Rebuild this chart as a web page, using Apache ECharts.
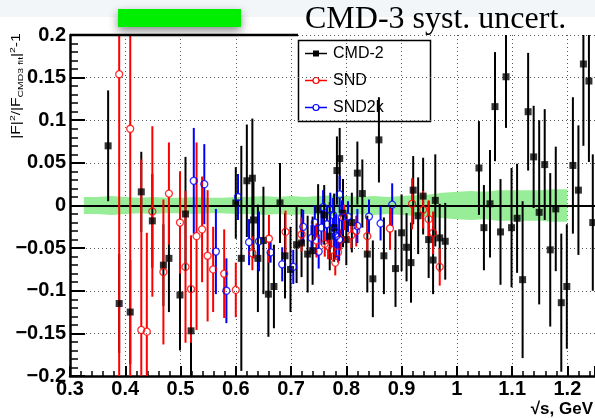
<!DOCTYPE html>
<html><head><meta charset="utf-8">
<script src="https://cdn.jsdelivr.net/npm/echarts@6/dist/echarts.min.js"></script>
<style>html,body{margin:0;padding:0;background:#fff}#c{width:595px;height:418px}</style>
</head><body><div id="c"></div><script>
// ---- CMD-2 (black squares) ----
const cmd2X=[0.369,0.389,0.409,0.429,0.449,0.469,0.479,0.499,0.509,0.519,0.600,0.610,0.620,0.630,0.632,0.640,0.650,0.659,0.669,0.680,0.689,0.699,0.710,0.719,0.730,0.739,0.749,0.760,0.770,0.778,0.783,0.788,0.794,0.800,0.810,0.820,0.829,0.838,0.848,0.859,0.868,0.889,0.900,0.909,0.917,0.921,0.930,0.939,0.949,0.957,0.961,0.969,0.979,1.040,1.049,1.060,1.069,1.079,1.089,1.099,1.109,1.119,1.129,1.139,1.149,1.159,1.169,1.179,1.189,1.199,1.210,1.220,1.229,1.239,1.246];
const cmd2Y=[0.070,-0.115,-0.125,0.016,-0.018,-0.070,-0.062,-0.105,-0.010,-0.147,0.003,-0.062,0.029,0.032,-0.017,-0.062,-0.041,-0.104,-0.095,0.003,-0.059,-0.075,-0.046,-0.044,-0.057,-0.053,-0.005,-0.011,-0.036,-0.026,0.041,0.055,-0.009,-0.040,-0.020,0.038,0.014,-0.057,-0.086,0.077,-0.059,-0.074,-0.032,-0.049,-0.067,0.018,-0.012,0.011,-0.040,-0.064,0.006,-0.038,-0.042,0.044,-0.026,0.002,0.116,-0.031,0.151,-0.026,-0.015,-0.087,0.110,0.057,-0.008,0.048,-0.052,-0.004,-0.114,-0.095,0.047,0.018,0.166,0.146,-0.020];
const cmd2E=[0.065,0.058,0.061,0.047,0.055,0.048,0.063,0.065,0.067,0.065,0.042,0.132,0.066,0.070,0.045,0.063,0.063,0.050,0.049,0.047,0.050,0.050,0.045,0.040,0.045,0.040,0.030,0.035,0.040,0.040,0.040,0.036,0.040,0.030,0.035,0.037,0.040,0.045,0.045,0.050,0.045,0.045,0.045,0.040,0.047,0.040,0.045,0.045,0.045,0.040,0.054,0.040,0.045,0.055,0.050,0.063,0.064,0.062,0.060,0.070,0.064,0.092,0.069,0.060,0.108,0.065,0.090,0.073,0.081,0.073,0.080,0.076,0.096,0.095,0.080];
// ---- SND (red open circles) ----
const sndX=[0.389,0.409,0.429,0.439,0.449,0.469,0.479,0.499,0.509,0.519,0.529,0.539,0.549,0.559,0.579,0.600,0.630,0.660,0.690,0.719,0.746,0.761,0.767,0.773,0.780,0.785,0.790,0.796,0.809,0.818,0.838,0.879,0.919,0.939,0.949,0.957,0.969];
const sndY=[0.154,0.090,-0.146,-0.148,-0.007,-0.078,0.014,-0.020,-0.072,-0.098,-0.036,-0.028,-0.059,-0.075,-0.080,-0.099,-0.056,-0.039,-0.031,-0.034,-0.041,-0.045,-0.048,-0.052,-0.067,-0.055,-0.040,-0.014,-0.035,-0.030,-0.036,-0.027,0.002,-0.005,-0.016,-0.032,-0.072];
const sndE=[0.450,0.450,0.200,0.116,0.100,0.085,0.060,0.060,0.089,0.063,0.110,0.062,0.077,0.050,0.052,0.032,0.020,0.028,0.025,0.020,0.020,0.015,0.015,0.012,0.015,0.012,0.012,0.015,0.015,0.018,0.020,0.025,0.030,0.022,0.022,0.025,0.022];
// ---- SND2k (blue open circles) ----
const snd2kX=[0.524,0.543,0.564,0.583,0.604,0.624,0.642,0.663,0.684,0.704,0.722,0.737,0.743,0.750,0.755,0.758,0.765,0.771,0.776,0.779,0.782,0.787,0.788,0.792,0.803,0.820,0.841,0.862,0.883];
const snd2kY=[0.029,0.025,-0.054,-0.100,0.010,-0.043,-0.042,-0.055,-0.069,-0.072,-0.025,-0.038,-0.020,-0.054,-0.026,-0.002,-0.022,-0.005,-0.011,-0.030,-0.036,-0.040,0.013,-0.014,-0.013,-0.024,-0.013,-0.021,0.001];
const snd2kE=[0.062,0.047,0.050,0.038,0.027,0.027,0.035,0.012,0.020,0.020,0.020,0.015,0.020,0.020,0.020,0.020,0.020,0.020,0.020,0.020,0.025,0.025,0.022,0.020,0.018,0.020,0.020,0.020,0.025];
// ---- CMD-3 systematic uncertainty band (half width) ----
const bandX=[0.325,0.35,0.375,0.4,0.425,0.45,0.475,0.5,0.525,0.55,0.575,0.6,0.625,0.65,0.675,0.7,0.725,0.75,0.775,0.8,0.825,0.85,0.875,0.9,0.925,0.95,0.975,1.0,1.025,1.05,1.075,1.1,1.125,1.15,1.175,1.2];
const bandHalf=[0.010,0.010,0.011,0.010,0.009,0.010,0.009,0.009,0.010,0.009,0.009,0.010,0.010,0.011,0.010,0.011,0.010,0.011,0.012,0.011,0.010,0.011,0.010,0.011,0.012,0.013,0.015,0.016,0.017,0.016,0.018,0.018,0.018,0.018,0.019,0.019];
// ---- axis ticks ----
const xMin=0.3, xMax=1.25, xStep=0.1;
const yMin=-0.2, yMax=0.2, yStep=0.05;

const FONT='"Liberation Sans", Arial, Helvetica, sans-serif';
const chart=echarts.init(document.getElementById('c'),null,{renderer:'canvas'});

function zip3(a,b,c){return a.map((v,i)=>[v,b[i],c[i]]);}
function zip2(a,b){return a.map((v,i)=>[v,b[i]]);}
function errBars(color,gap,lw){
  return function(params,api){
    const x=api.value(0),y=api.value(1),e=api.value(2);
    const c=api.coord([x,y]),t=api.coord([x,y+e]),b=api.coord([x,y-e]);
    const st={stroke:color,lineWidth:lw};
    const ch=[];
    if(gap>0){
      const g1=Math.min(gap,c[1]-t[1]), g2=Math.min(gap,b[1]-c[1]);
      ch.push({type:'line',shape:{x1:c[0],y1:t[1],x2:c[0],y2:c[1]-g1},style:st});
      ch.push({type:'line',shape:{x1:c[0],y1:c[1]+g2,x2:c[0],y2:b[1]},style:st});
    } else {
      ch.push({type:'line',shape:{x1:c[0],y1:t[1],x2:c[0],y2:b[1]},style:st});
    }
    return {type:'group',children:ch};
  };
}
function fmt(v){const a=parseFloat(Math.abs(v).toFixed(3));return (v< -1e-9?'\u2212':'')+a;}

const series=[
  {type:'line',data:zip2(bandX,bandHalf),symbol:'none',lineStyle:{width:0},areaStyle:{color:'#98ee98',opacity:1},silent:true,z:1,
   markLine:{silent:true,symbol:'none',label:{show:false},lineStyle:{color:'#000',width:2,type:'solid'},data:[{yAxis:0}],z:2}},
  {type:'line',data:zip2(bandX,bandHalf.map(v=>-v)),symbol:'none',lineStyle:{width:0},areaStyle:{color:'#98ee98',opacity:1},silent:true,z:1},
  {type:'custom',name:'CMD-2 err',data:zip3(cmd2X,cmd2Y,cmd2E),renderItem:errBars('#000',0,2),clip:true,encode:{x:0,y:1},z:3},
  {type:'scatter',name:'CMD-2',data:zip2(cmd2X,cmd2Y),symbol:'rect',symbolSize:7,itemStyle:{color:'#000'},clip:true,z:3},
  {type:'custom',name:'SND err',data:zip3(sndX,sndY,sndE),renderItem:errBars('#ff0000',3.5,2),clip:true,encode:{x:0,y:1},z:3},
  {type:'scatter',name:'SND',data:zip2(sndX,sndY),symbol:'circle',symbolSize:7,itemStyle:{color:'rgba(0,0,0,0)',borderColor:'#ff0000',borderWidth:1.3},clip:true,z:3},
  {type:'custom',name:'SND2k err',data:zip3(snd2kX,snd2kY,snd2kE),renderItem:errBars('#0000ff',3.5,2),clip:true,encode:{x:0,y:1},z:3},
  {type:'scatter',name:'SND2k',data:zip2(snd2kX,snd2kY),symbol:'circle',symbolSize:7,itemStyle:{color:'rgba(0,0,0,0)',borderColor:'#0000ff',borderWidth:1.3},clip:true,z:3}
];

const legendRows=[['CMD-2','#000','rect'],['SND','#ff0000','circle'],['SND2k','#0000ff','circle']];
const legendEls=[{type:'rect',shape:{x:298.5,y:40.5,width:132,height:81},style:{fill:'#fff',stroke:'#000',lineWidth:1.5}}];
legendRows.forEach((r,i)=>{
  const y=53.5+i*27;
  legendEls.push({type:'line',shape:{x1:305,y1:y,x2:327,y2:y},style:{stroke:r[1],lineWidth:1.5}});
  if(r[2]==='rect') legendEls.push({type:'rect',shape:{x:313,y:y-3,width:6,height:6},style:{fill:r[1]}});
  else legendEls.push({type:'circle',shape:{cx:316,cy:y,r:3},style:{fill:'#fff',stroke:r[1],lineWidth:1.2}});
  legendEls.push({type:'text',x:333,y:y,style:{text:r[0],font:'16px '+FONT,fill:'#000',verticalAlign:'middle',align:'left'}});
});

chart.setOption({
  animation:false,
  backgroundColor:'#fff',
  grid:{left:70,right:0,top:35,bottom:42,containLabel:false,outerBoundsMode:'none'},
  xAxis:{type:'value',min:xMin,max:xMax,interval:xStep,
    axisLine:{show:true,onZero:false,lineStyle:{color:'#000',width:2.5}},
    axisTick:{show:true,inside:true,length:10,lineStyle:{color:'#000',width:2}},
    minorTick:{show:true,splitNumber:5,length:5,lineStyle:{color:'#000',width:1.5}},
    splitLine:{show:true,lineStyle:{color:'#555',width:1,type:[1,3]}},
    axisLabel:{show:true,showMaxLabel:false,margin:3,color:'#000',fontFamily:FONT,fontWeight:'bold',fontSize:20,formatter:v=>fmt(v)}
  },
  yAxis:{type:'value',min:yMin,max:yMax,interval:yStep,
    axisLine:{show:true,onZero:false,lineStyle:{color:'#000',width:2.5}},
    axisTick:{show:true,inside:true,length:15,lineStyle:{color:'#000',width:2}},
    minorTick:{show:true,splitNumber:5,length:8,lineStyle:{color:'#000',width:1.5}},
    splitLine:{show:true,lineStyle:{color:'#555',width:1,type:[1,3]}},
    axisLabel:{show:true,margin:4,color:'#000',fontFamily:FONT,fontWeight:'bold',fontSize:20,formatter:v=>fmt(v)}
  },
  series:series,
  graphic:[
    {type:'rect',shape:{x:0,y:0,width:595,height:17},style:{fill:'#f2f6f9'},z:-10,silent:true},
    {type:'rect',shape:{x:118,y:9,width:123,height:18},style:{fill:'#00ee00',shadowBlur:10,shadowColor:'rgba(0,0,0,0.45)',shadowOffsetY:4},z:5},
    {type:'line',shape:{x1:70,y1:35,x2:298,y2:35},style:{stroke:'#000',lineWidth:2.5},z:6},
    {type:'text',x:305,y:4,style:{text:'CMD-3 syst. uncert.',font:'32px "Liberation Serif", "Times New Roman", serif',fill:'#000',align:'left',verticalAlign:'top'},z:6},
    {type:'group',z:10,children:legendEls},
    {type:'text',x:17,y:86,rotation:Math.PI/2,scaleX:1.3,z:6,style:{
      text:'{a||F|}{b|2}{a|/|F}{c|CMD3 fit}{a||}{b|2}{a|-1}',align:'center',verticalAlign:'middle',
      rich:{a:{font:'12px '+FONT,fill:'#000',lineHeight:16,verticalAlign:'middle'},
            b:{font:'8px '+FONT,fill:'#000',lineHeight:16,verticalAlign:'top'},
            c:{font:'8px '+FONT,fill:'#000',lineHeight:16,verticalAlign:'bottom'}}}},
    {type:'text',x:593,y:409,z:6,style:{text:'\u221As, GeV',font:'bold 17px '+FONT,fill:'#000',align:'right',verticalAlign:'middle'}}
  ]
});
</script></body></html>
